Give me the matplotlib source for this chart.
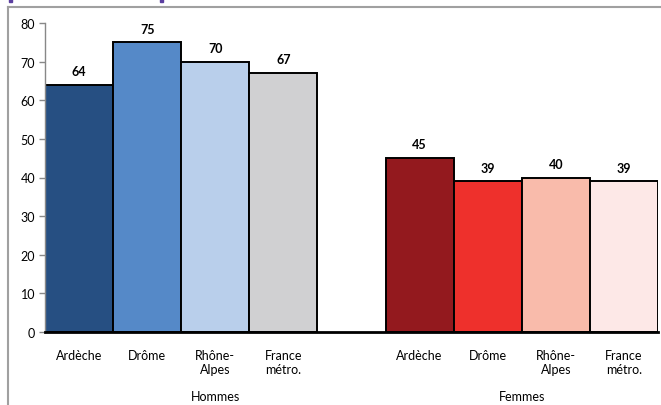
import matplotlib
matplotlib.use("Agg")
import matplotlib.pyplot as plt
from matplotlib.lines import Line2D
from matplotlib.patches import Rectangle

plt.rcParams['font.family'] = ['Lato', 'DejaVu Sans']

categories = ["Ardèche", "Drôme", "Rhône-\nAlpes", "France\nmétro."]
groups = ["Hommes", "Femmes"]
hommes = [64, 75, 70, 67]
femmes = [45, 39, 40, 39]
colors_h = ["#264F82", "#5589C8", "#B9CFEB", "#D0D0D2"]
colors_f = ["#93191E", "#EE302C", "#F9BBAB", "#FDE8E7"]

W, H = 661, 406
fig = plt.figure(figsize=(W / 100, H / 100), dpi=100)
ax = fig.add_axes([45 / W, 1 - 333 / H, (658 - 45) / W, (333 - 24) / H])

xh = [0, 1, 2, 3]
xf = [5, 6, 7, 8]
ax.bar(xh, hommes, width=1.0, color=colors_h, edgecolor="black", linewidth=1.4, zorder=2)
ax.bar(xf, femmes, width=1.0, color=colors_f, edgecolor="black", linewidth=1.4, zorder=2)

for x, v in zip(xh + xf, hommes + femmes):
    ax.text(x, v + 2.0, f"{v}", ha="center", va="bottom", fontsize=9, fontweight="bold")

ax.set_xlim(-0.5, 8.5)
ax.set_ylim(0, 80)
ax.set_yticks(range(0, 81, 10))
ax.tick_params(axis="y", labelsize=9, length=4, color="#888888", width=1, pad=3)
ax.set_xticks(xh + xf)
ax.set_xticklabels(categories + categories, fontsize=9, linespacing=1.25, va="top")
ax.tick_params(axis="x", length=0, pad=12)

for s in ["top", "right"]:
    ax.spines[s].set_visible(False)
ax.spines["left"].set_color("#888888")
ax.spines["left"].set_linewidth(1)
ax.spines["bottom"].set_color("black")
ax.spines["bottom"].set_linewidth(2)
ax.spines["bottom"].set_zorder(3)

trans = ax.get_xaxis_transform()
ax.text(2, -0.207, groups[0], transform=trans, ha="center", va="center", fontsize=9)
ax.text(6.5, -0.207, groups[1], transform=trans, ha="center", va="center", fontsize=9)

# outer frame
fig.add_artist(Line2D([8 / W, 1], [1 - 8 / H, 1 - 8 / H], color="#A0A0A0", lw=1.5, transform=fig.transFigure))
fig.add_artist(Line2D([8 / W, 8 / W], [0, 1 - 8 / H], color="#A0A0A0", lw=1.5, transform=fig.transFigure))
# small purple title remnants
fig.add_artist(Rectangle((9 / W, 1 - 3 / H), 3 / W, 3 / H, color="#5B3FA0", transform=fig.transFigure))
fig.add_artist(Rectangle((160 / W, 1 - 3 / H), 3 / W, 3 / H, color="#5B3FA0", transform=fig.transFigure))

fig.savefig("out.png", dpi=100)
